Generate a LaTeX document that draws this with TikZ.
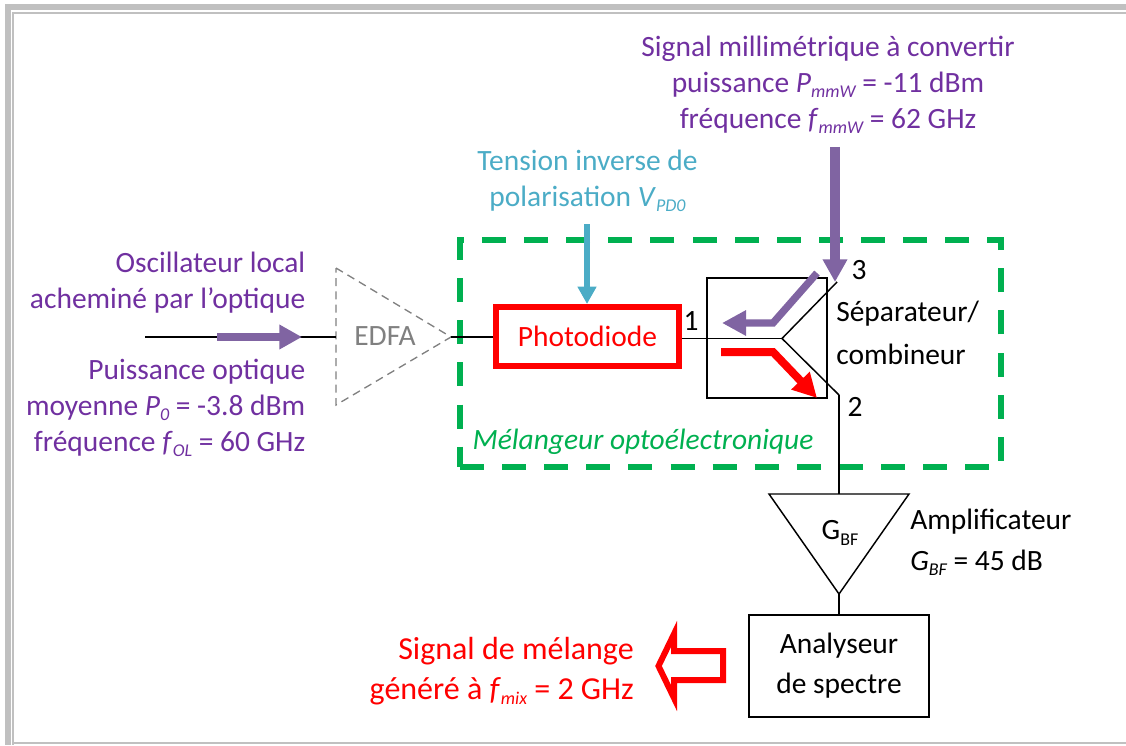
\documentclass[tikz,border=0pt]{standalone}
\usepackage{fontspec}
\setmainfont{Carlito}
\usetikzlibrary{arrows.meta}

\definecolor{violettxt}{RGB}{112,48,160}
\definecolor{violetfl}{RGB}{128,100,162}
\definecolor{cyanfl}{RGB}{75,172,198}
\definecolor{vertmel}{RGB}{0,176,80}
\definecolor{grisamp}{RGB}{128,128,128}
\definecolor{griscadre}{RGB}{192,192,192}
\newcommand{\sousind}[1]{\raisebox{-0.18em}{\fontsize{13.5}{13.5}\selectfont #1}}
\newcommand{\indice}[1]{\sousind{\itshape #1}}

\begin{document}
\begin{tikzpicture}[
    x=0.75pt,
    y=-0.75pt,
    font=\fontsize{22.1}{27}\selectfont,
    wire/.style={draw=black, line width=1.1pt},
    label/.style={inner sep=0pt, align=center},
    labelr/.style={inner sep=0pt, align=right, anchor=east},
    labell/.style={inner sep=0pt, align=left, anchor=west},
    block/.style={draw, line width=0.9pt, inner sep=0pt, align=center},
    arrowv/.style={-{Triangle[length=17pt,width=17.5pt]}, draw=violetfl, line width=6pt},
    arrowb/.style={-{Triangle[length=18pt,width=18pt]}, line width=6pt},
    phase/.style={draw=vertmel, line width=4.5pt, dash pattern=on 18pt off 13.575pt}
]

% ============================================================
% CADRE
% ============================================================
\useasboundingbox (0,0) rectangle (1126,745);
\draw[griscadre, line width=4.5pt] (1126,7.5) -- (8,7.5) -- (8,745);
\draw[griscadre, line width=1.5pt] (1126,13) -- (13,13) -- (13,745);
\draw[griscadre, line width=1.5pt] (13,743) -- (1126,743);

% ============================================================
% MELANGEUR
% ============================================================
\draw[phase] (460,467) -- (1001,467) -- (1001,240) -- (460,240) -- cycle;
\node[label, text=vertmel, font=\fontsize{22.1}{27}\selectfont\itshape] (melname) at (643,442) {Mélangeur optoélectronique};

\node[block, draw=red, line width=4.5pt, minimum width=137.25pt, minimum height=44.25pt, text=red] (pd) at (587.5,336.5) {Photodiode};
\node[block, minimum width=90pt, minimum height=90pt] (sep) at (767,338) {};

\coordinate (junc) at (782,338.5);
\coordinate (port3) at (837,282);
\coordinate (port2) at (839,395);

\draw[wire] (pd.east |- junc) -- (junc);
\draw[wire] (port3) -- (junc) -- (port2);

\node[label] (num1) at (691,321) {1};
\node[label] (num3) at (859,270) {3};
\node[label] (num2) at (855,407) {2};
\node[labell, font=\fontsize{22.1}{32}\selectfont] (sepname) at (836,333) {Séparateur/\\combineur};

% sens de propagation dans le coupleur
\draw[arrowv, line width=5.5pt, -{Triangle[length=18pt,width=18pt]}, miter limit=10] (817,273) -- (773,323) -- (722,323);
\draw[arrowb, red] (721,352) -- (773,352) -- (817,398);

% ============================================================
% ENTREE OPTIQUE
% ============================================================
\coordinate (olin) at (145,337);
\coordinate (edfatop) at (336,268);
\coordinate (edfabot) at (336,405);
\coordinate (edfaout) at (451,337);
\coordinate (edfain) at (336,337);

\draw[grisamp, line width=1pt, dash pattern=on 6pt off 4pt] (edfatop) -- (edfaout) -- (edfabot) -- cycle;
\node[label, text=grisamp] (edfa) at (385,336) {EDFA};
\draw[wire] (olin) -- (edfain);
\draw[wire] (edfaout) -- (pd.west |- edfaout);

\coordinate (olstart) at (217,337);
\coordinate (oltip) at (302,337);
\draw[arrowv] (olstart) -- (oltip);

\node[labelr, text=violettxt] (olname) at (305.5,283) {Oscillateur local\\acheminé par l’optique};
\node[labelr, text=violettxt] (olparam) at (305.5,408) {Puissance optique\\moyenne \textit{P}\indice{0} = -3.8 dBm\\fréquence \textit{f}\indice{OL} = 60 GHz};

% ============================================================
% ENTREES DU HAUT
% ============================================================
\node[label, text=violettxt] (mmw) at (828,85) {Signal millimétrique à convertir\\puissance \textit{P}\indice{mmW} = -11 dBm\\fréquence \textit{f}\indice{mmW} = 62 GHz};
\coordinate (mmwstart) at (835,147);
\draw[arrowv, line width=7.5pt] (mmwstart) -- (port3 -| mmwstart);

\node[label, text=cyanfl] (vpd) at (587.5,181) {Tension inverse de\\polarisation \textit{V}\indice{PD0}};
\coordinate (vpdstart) at (587,224);
\draw[arrowb, cyanfl, line width=4.5pt, -{Triangle[length=13pt,width=13.5pt]}] (vpdstart) -- (pd.north -| vpdstart);

% ============================================================
% AMPLIFICATEUR ET ANALYSEUR
% ============================================================
\coordinate (ampl) at (769,494);
\coordinate (ampr) at (909,494);
\coordinate (ampbot) at (839,594);
\coordinate (amptop) at (839,494);

\draw[wire, line join=miter] (ampl) -- (ampr) -- (ampbot) -- cycle;
\node[label] (gbf) at (840,533) {G\sousind{BF}};
\node[labell, font=\fontsize{22.1}{30.75}\selectfont] (ampname) at (910,542) {Amplificateur\\\textit{G}\indice{BF} = 45 dB};

\node[block, minimum width=135pt, minimum height=76.5pt, font=\fontsize{22.1}{30}\selectfont] (spectre) at (839,666) {Analyseur\\de spectre};

\draw[wire] (port2) -- (amptop);
\draw[wire] (ampbot) -- (spectre.north);

% ============================================================
% SORTIE
% ============================================================
\node[labelr, text=red, font=\fontsize{24}{30}\selectfont] (mix) at (634,671) {Signal de mélange\\généré à \textit{f}\indice{mix} = 2 GHz};
\draw[red, line width=4.5pt, miter limit=10] (658.5,666) -- (674,634) -- (674,651) -- (723,651) -- (723,680) -- (674,680) -- (674,698) -- cycle;

\end{tikzpicture}
\end{document}
